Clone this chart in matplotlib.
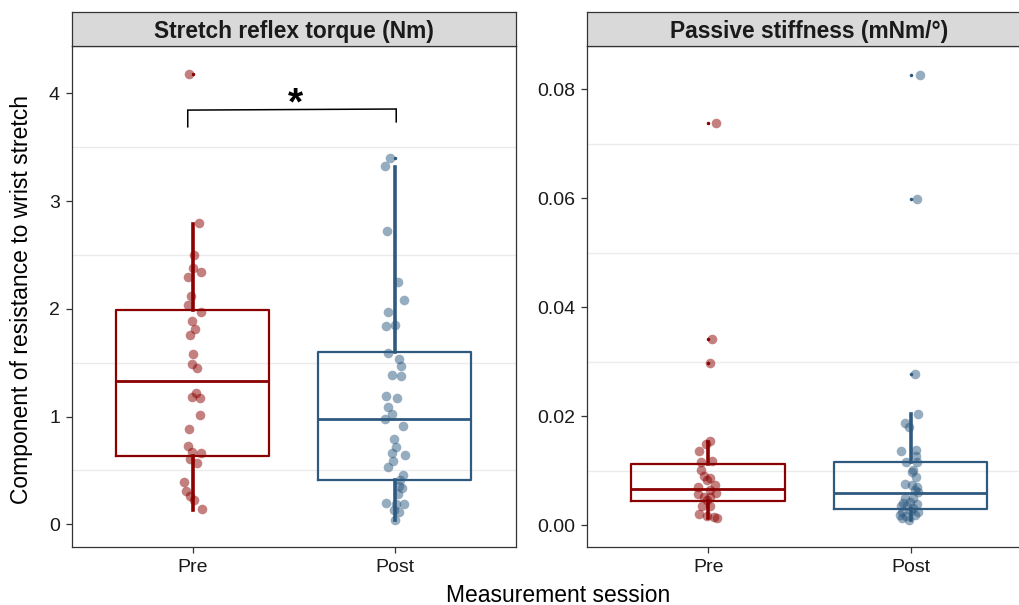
import matplotlib
matplotlib.use("Agg")
import matplotlib.pyplot as plt
from matplotlib.ticker import MultipleLocator, FixedLocator

plt.rcParams['font.family'] = ['Liberation Sans', 'DejaVu Sans']

# ---------------- data ----------------
sessions = ["Pre", "Post"]
panel_titles = ["Stretch reflex torque (Nm)", "Passive stiffness (mNm/°)"]
ylabel = "Component of resistance to wrist stretch"
xlabel = "Measurement session"

# Stretch reflex torque points (values, horizontal jitter in category units)
torque_pre = [4.18, 2.80, 2.50, 2.38, 2.34, 2.30, 2.12, 2.04, 1.97, 1.89, 1.81, 1.76,
              1.58, 1.49, 1.45, 1.22, 1.18, 1.17, 1.01, 0.88, 0.73, 0.67, 0.66, 0.61,
              0.57, 0.39, 0.31, 0.26, 0.23, 0.14]
torque_pre_jit = [-0.018, 0.033, 0.006, 0.0, 0.040, -0.026, -0.010, -0.023, 0.040, -0.006,
                  0.010, -0.016, 0.001, -0.003, 0.023, 0.018, -0.003, 0.036, 0.035, -0.018,
                  -0.023, -0.006, 0.043, -0.015, 0.023, -0.046, -0.035, -0.015, 0.006, 0.048]
torque_post = [3.40, 3.33, 2.72, 2.25, 2.08, 1.97, 1.85, 1.84, 1.59, 1.53, 1.47, 1.39,
               1.38, 1.19, 1.17, 1.09, 1.02, 0.98, 0.91, 0.79, 0.72, 0.66, 0.64, 0.59,
               0.53, 0.46, 0.41, 0.36, 0.34, 0.28, 0.20, 0.19, 0.19, 0.13, 0.11, 0.04]
torque_post_jit = [-0.025, -0.050, -0.038, 0.015, 0.048, -0.031, 0.0, -0.045, -0.031, 0.022,
                   0.033, -0.011, 0.032, -0.045, 0.012, -0.035, -0.011, -0.050, 0.042, -0.005,
                   0.005, -0.011, 0.050, -0.010, -0.031, 0.040, 0.028, 0.023, 0.037, 0.017,
                   -0.045, 0.045, 0.008, -0.005, 0.020, 0.0]

# Passive stiffness points
stiff_pre = [0.0737, 0.0341, 0.0297, 0.0155, 0.0148, 0.0135, 0.0118, 0.0116, 0.0101, 0.0090,
             0.0086, 0.0083, 0.0073, 0.0069, 0.0065, 0.0058, 0.0057, 0.0052, 0.0052, 0.0046,
             0.0035, 0.0035, 0.0020, 0.0017, 0.0015, 0.0012]
stiff_pre_jit = [0.041, 0.020, 0.008, 0.008, -0.013, -0.046, 0.020, -0.033, -0.034, -0.022,
                 0.008, -0.008, 0.036, -0.048, 0.008, 0.039, -0.049, -0.022, 0.011, -0.005,
                 -0.028, 0.011, -0.044, -0.005, 0.028, 0.044]
stiff_post = [0.0826, 0.0598, 0.0277, 0.0204, 0.0188, 0.0179, 0.0137, 0.0136, 0.0127, 0.0116,
              0.0116, 0.0101, 0.0098, 0.0089, 0.0075, 0.0073, 0.0069, 0.0064, 0.0061, 0.0049,
              0.0049, 0.0043, 0.0040, 0.0039, 0.0035, 0.0034, 0.0032, 0.0026, 0.0024, 0.0023,
              0.0018, 0.0018, 0.0017, 0.0012, 0.0009]
stiff_post_jit = [0.048, 0.033, 0.021, 0.039, -0.028, -0.008, 0.025, -0.048, 0.025, -0.023,
                  0.030, 0.013, 0.006, 0.025, -0.025, 0.008, 0.034, 0.021, 0.039, -0.027,
                  0.010, -0.003, -0.036, 0.030, -0.049, -0.020, 0.013, 0.0, -0.043, 0.039,
                  -0.053, 0.021, -0.023, -0.041, -0.007]

# Box statistics: q1, median, q3, lower whisker, upper whisker
torque_box_pre = [0.634, 1.333, 1.989, 0.133, 2.787]
torque_box_post = [0.411, 0.980, 1.596, 0.040, 3.320]
torque_out_pre = [4.18]
torque_out_post = [3.40]
stiff_box_pre = [0.00435, 0.00655, 0.01125, 0.0012, 0.0153]
stiff_box_post = [0.00288, 0.00593, 0.01156, 0.0009, 0.0203]
stiff_out_pre = [0.0737, 0.0341, 0.0297]
stiff_out_post = [0.0826, 0.0598, 0.0277]

torque_ticks = [0, 1, 2, 3, 4]
stiff_ticks = [0.00, 0.02, 0.04, 0.06, 0.08]

# significance bracket (data coords of left panel)
bracket_x = [0.975, 0.975, 2.008, 2.008]
bracket_y = [3.69, 3.845, 3.855, 3.736]
star_pos = (1.51, 3.90)

# ---------------- style ----------------
pre_col = "#8B0000"
post_col = "#2E5A80"
W, H = 1019, 605
fig = plt.figure(figsize=(W / 100, H / 100), dpi=100)

def fx(px):
    return px / W

def fy(py):
    return 1 - py / H

panels = [
    dict(left=71.7, right=515.7, title=panel_titles[0],
         pts=[(torque_pre, torque_pre_jit), (torque_post, torque_post_jit)],
         box=[torque_box_pre, torque_box_post], out=[torque_out_pre, torque_out_post],
         ylim=(-0.208, 4.44), ticks=torque_ticks, minor=0.5,
         fmt=lambda v: f"{v:g}"),
    dict(left=586.7, right=1032.0, title=panel_titles[1],
         pts=[(stiff_pre, stiff_pre_jit), (stiff_post, stiff_post_jit)],
         box=[stiff_box_pre, stiff_box_post], out=[stiff_out_pre, stiff_out_post],
         ylim=(-0.00398, 0.0879), ticks=stiff_ticks, minor=0.01,
         fmt=lambda v: f"{v:.2f}"),
]

top_px, bot_px, strip_top_px = 46.0, 546.7, 12.0
colors = [pre_col, post_col]
axes = []
for p in panels:
    ax = fig.add_axes([fx(p["left"]), fy(bot_px), fx(p["right"] - p["left"]),
                       (bot_px - top_px) / H])
    axes.append(ax)
    # strip
    sax = fig.add_axes([fx(p["left"]), fy(top_px), fx(p["right"] - p["left"]),
                        (top_px - strip_top_px) / H])
    sax.set_facecolor("#D9D9D9")
    sax.set_xticks([]); sax.set_yticks([])
    for s in sax.spines.values():
        s.set_color("#333333"); s.set_linewidth(0.9)
    sax.text(0.5, 0.43, p["title"], ha="center", va="center", fontsize=16.4,
             fontweight="bold", color="#1A1A1A", transform=sax.transAxes)

    # points
    for i, (vals, jit) in enumerate(p["pts"]):
        xs = [i + 1 + j for j in jit]
        ax.scatter(xs, vals, s=48, color=colors[i], alpha=0.5, linewidths=0, zorder=2)

    # boxes
    for i, (st, outs) in enumerate(zip(p["box"], p["out"])):
        stats = [dict(q1=st[0], med=st[1], q3=st[2], whislo=st[3], whishi=st[4],
                      fliers=outs)]
        c = colors[i]
        ax.bxp(stats, positions=[i + 1], widths=0.76, showcaps=False,
               boxprops=dict(color=c, linewidth=1.6),
               whiskerprops=dict(color=c, linewidth=2.6),
               medianprops=dict(color=c, linewidth=2.0),
               flierprops=dict(marker="o", markersize=1.5, markerfacecolor=c,
                               markeredgecolor=c),
               manage_ticks=False, zorder=3)

    ax.set_xlim(0.4, 2.6)
    ax.set_ylim(*p["ylim"])
    ax.set_xticks([1, 2])
    ax.set_xticklabels(sessions)
    ax.yaxis.set_major_locator(FixedLocator(p["ticks"]))
    ax.set_yticklabels([p["fmt"](v) for v in p["ticks"]])
    ax.yaxis.set_minor_locator(MultipleLocator(p["minor"]))
    ax.grid(False)
    lo, hi = p["ylim"]
    k = 1
    while True:
        v = (k - 0.5) * p["minor"] * 2
        if v > hi:
            break
        ax.axhline(v, color="#EBEBEB", linewidth=1.0, zorder=0)
        k += 1
    ax.tick_params(axis="y", which="minor", length=0)
    ax.tick_params(axis="both", which="major", length=4, width=0.9, color="#333333",
                   labelsize=14, labelcolor="#1A1A1A", pad=4.5)
    for s in ax.spines.values():
        s.set_color("#333333"); s.set_linewidth(0.9)

# bracket + star
axes[0].plot(bracket_x, bracket_y, color="black", linewidth=1.1, zorder=4,
             solid_joinstyle="miter")
axes[0].text(star_pos[0], star_pos[1], "*", ha="center", va="center", fontsize=28,
             fontweight="bold", color="black")

fig.text(fx(22), fy(300), ylabel, rotation=90, ha="center", va="center",
         fontsize=16.5, color="black")
fig.text(fx(558), fy(595), xlabel, ha="center", va="center", fontsize=16.5,
         color="black")

fig.savefig("out.png", dpi=100)
